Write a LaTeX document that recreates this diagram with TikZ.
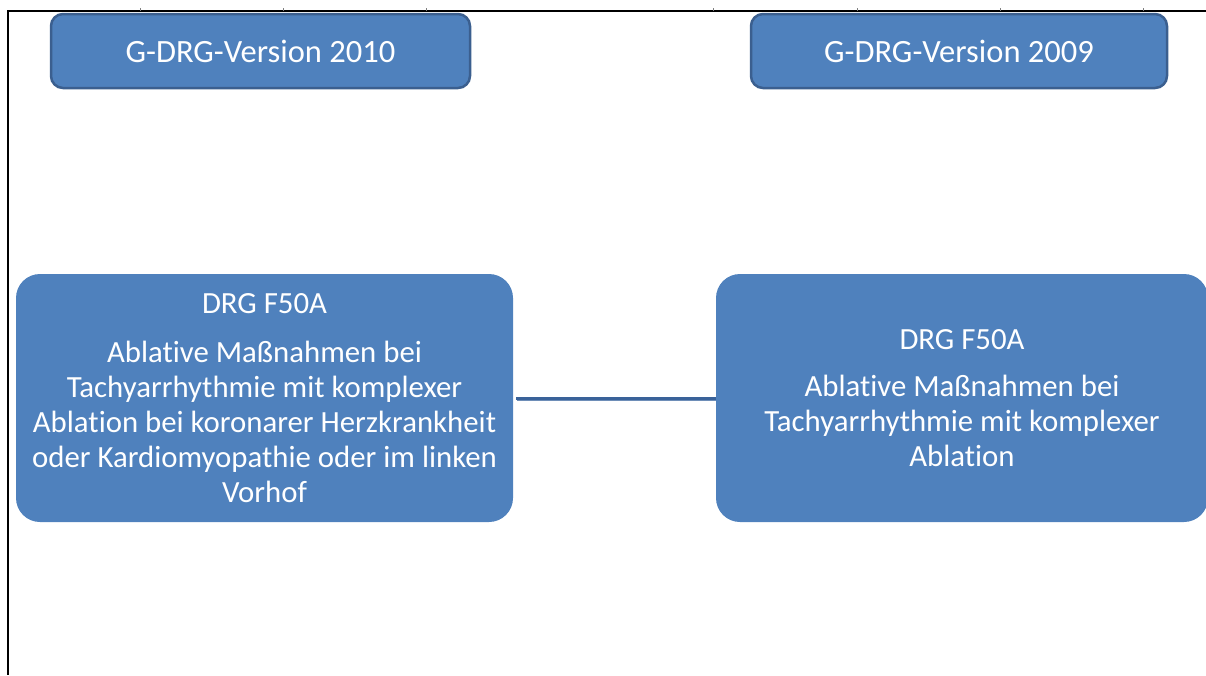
\documentclass[tikz,border=0pt]{standalone}
\usepackage{fontspec}
\setmainfont{Carlito}[Ligatures={NoCommon}]
\definecolor{boxfill}{HTML}{4F81BD}
\definecolor{boxedge}{HTML}{3B5F8F}
\definecolor{connc}{HTML}{3A6299}
\definecolor{connsh}{HTML}{6E8EB8}
\tikzset{
  hdrbox/.style={draw=boxedge, line width=2.5pt, fill=boxfill, rounded corners=12pt,
    text=white, font=\fontsize{32.5}{38}\selectfont, inner sep=0pt, anchor=center},
  drgbox/.style={fill=boxfill, rounded corners=24pt, text=white, inner sep=0pt,
    font=\fontsize{30.8}{35}\selectfont, align=center, anchor=center},
  frame/.style={black, line width=1.2pt},
  tick/.style={gray, line width=0.6pt},
  conn/.style={connc, line width=3pt},
  connshadow/.style={connsh, line width=2pt}
}
\begin{document}
\begin{tikzpicture}[x=1pt,y=-1pt]
\useasboundingbox (0,0) rectangle (1206,675);
% frame lines
\draw[frame] (7,11) -- (1206,11);
\draw[frame] (8,11) -- (8,675);
\foreach \xx in {140,283,426,713,857,1000,1143}
  \draw[tick] (\xx,8) -- (\xx,11);
% header boxes
\node[hdrbox, minimum width=419pt, minimum height=74pt] (h1) at (260.5,51) {G-DRG-Version 2010};
\node[hdrbox, minimum width=416pt, minimum height=74pt] (h2) at (959,51) {G-DRG-Version 2009};
% DRG boxes
\node[drgbox, minimum width=497pt, minimum height=248pt] (L) at (264.5,398)
  {DRG F50A\\[14pt]
   Ablative Maßnahmen bei\\
   Tachyarrhythmie mit komplexer\\
   Ablation bei koronarer Herzkrankheit\\
   oder Kardiomyopathie oder im linken\\
   Vorhof};
\node[drgbox, minimum width=492pt, minimum height=248pt] (R) at (962,398)
  {DRG F50A\\[12pt]
   Ablative Maßnahmen bei\\
   Tachyarrhythmie mit komplexer\\
   Ablation};
% connector
\draw[connshadow] ([xshift=4pt,yshift=-2pt]L.east) -- ([yshift=-2pt]R.west);
\draw[conn] ([xshift=3pt]L.east) -- (R.west);
\end{tikzpicture}
\end{document}
